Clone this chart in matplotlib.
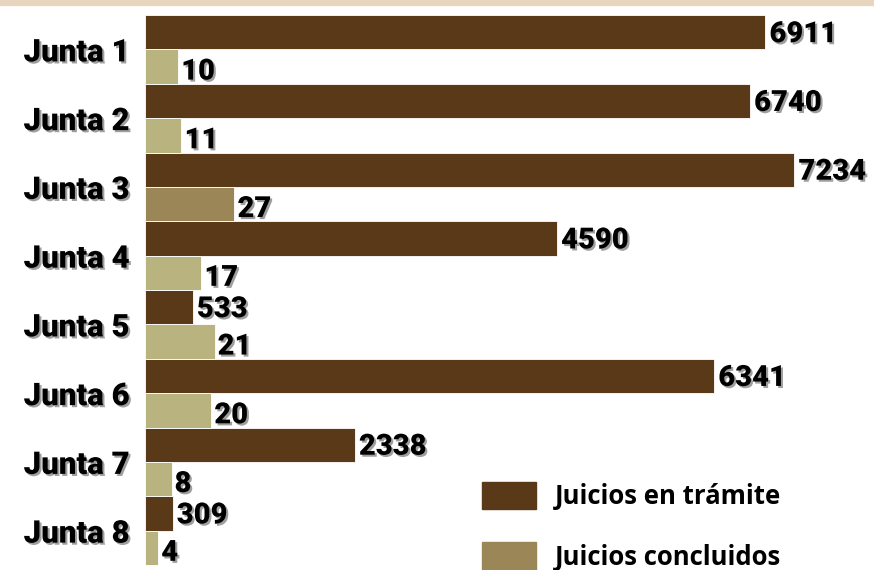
import matplotlib.pyplot as plt
import matplotlib.patheffects as pe
from matplotlib.patches import Patch, Rectangle

# Data
juntas = ['Junta 1', 'Junta 2', 'Junta 3', 'Junta 4',
          'Junta 5', 'Junta 6', 'Junta 7', 'Junta 8']
tramite = [6911, 6740, 7234, 4590, 533, 6341, 2338, 309]
concluidos = [10, 11, 27, 17, 21, 20, 8, 4]

dark = '#5a3919'
light = '#b9b380'
olive = '#9b8658'
conc_colors = [olive if j == 'Junta 3' else light for j in juntas]

shadow = [pe.withSimplePatchShadow(offset=(1.5, -1.5), shadow_rgbFace='#777777', alpha=0.7)]

fig = plt.figure(figsize=(8.74, 5.70), dpi=100)
ax = fig.add_axes([145/874, 5/570, 1 - 145/874, 550/570])
ax2 = ax.twiny()

pos = list(range(len(juntas)))
b1 = ax.barh([p - 0.25 for p in pos], tramite, height=0.5, color=dark,
             edgecolor='white', linewidth=0.6)
b2 = ax2.barh([p + 0.25 for p in pos], concluidos, height=0.5, color=conc_colors,
              edgecolor='white', linewidth=0.6)

ax.set_xlim(0, 8120)
ax2.set_xlim(0, 220)
ax.set_ylim(len(juntas) - 0.5, -0.5)
ax2.set_ylim(len(juntas) - 0.5, -0.5)

for a in (ax, ax2):
    for s in a.spines.values():
        s.set_visible(False)
    a.set_xticks([])
ax2.set_yticks([])

ax.set_yticks(pos)
ax.set_yticklabels(juntas, fontfamily='Roboto', fontweight='black', fontsize=22.5)
ax.tick_params(axis='y', length=0, pad=11)
for t in ax.get_yticklabels():
    t.set_path_effects(shadow)

for rect, v in zip(b1, tramite):
    ax.annotate(str(v), (rect.get_width(), rect.get_y() + rect.get_height() / 2),
                xytext=(4, -2), textcoords='offset pixels', va='center', ha='left',
                fontfamily='Roboto', fontweight='black', fontsize=21, path_effects=shadow)
for rect, v in zip(b2, concluidos):
    ax2.annotate(str(v), (rect.get_width(), rect.get_y() + rect.get_height() / 2),
                 xytext=(3, -5), textcoords='offset pixels', va='center', ha='left',
                 fontfamily='Roboto', fontweight='black', fontsize=21, path_effects=shadow)

# legend
handles = [Patch(color=dark), Patch(color=olive)]
fig.legend(handles, ['Juicios en trámite', 'Juicios concluidos'],
           loc='upper left', bbox_to_anchor=(482/874, 1 - 482/570),
           frameon=False, borderpad=0, borderaxespad=0,
           handlelength=2.1, handleheight=1.25, handletextpad=0.75, labelspacing=1.25,
           prop={'family': 'Open Sans', 'weight': 'bold', 'size': 18.5})

# top strip
fig.add_artist(Rectangle((0, 1 - 5/570), 1, 5/570, transform=fig.transFigure,
                         color='#e8d5bf', zorder=0))

fig.savefig('out.png', dpi=100)
